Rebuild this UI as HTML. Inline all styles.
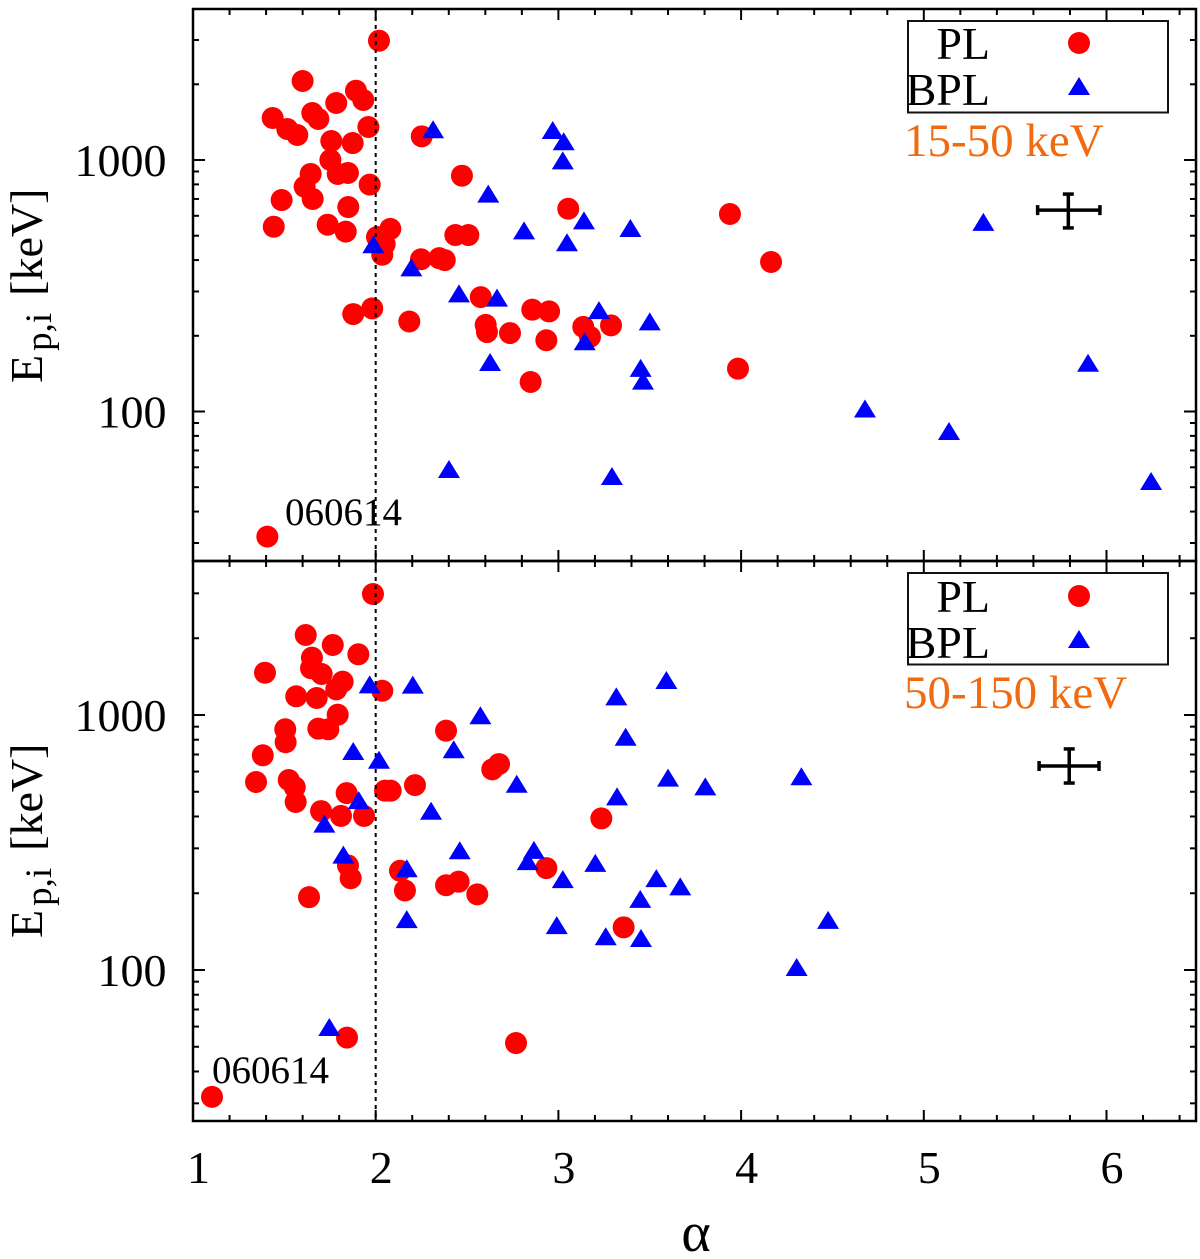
<!DOCTYPE html>
<html lang="en">
<head>
<meta charset="utf-8">
<title>Ep,i versus alpha</title>
<style>
html,body{margin:0;padding:0;background:#fff;}
svg{display:block;font-family:"Liberation Serif",serif;}
</style>
</head>
<body>
<svg id="chart" xmlns="http://www.w3.org/2000/svg" width="1200" height="1259" viewBox="0 0 1200 1259">
  <rect width="1200" height="1259" fill="#fff"/>
  <g id="gridless-axes"></g>
  <g id="marks"></g>

  <text transform="translate(42,383) rotate(-90)" font-size="46" fill="#000">E<tspan dx="4" dy="9" font-size="37">p,i</tspan><tspan dx="17" dy="-9">[keV]</tspan></text>
  <text transform="translate(42,938) rotate(-90)" font-size="46" fill="#000">E<tspan dx="4" dy="9" font-size="37">p,i</tspan><tspan dx="17" dy="-9">[keV]</tspan></text>
  <text x="696" y="1251" font-size="56" text-anchor="middle" fill="#000">α</text>

  <text x="285" y="525" font-size="39" fill="#000">060614</text>
  <text x="212" y="1083" font-size="39" fill="#000">060614</text>

  <g>
    <rect x="908" y="21" width="260" height="91.5" fill="#fff" stroke="#111" stroke-width="2"/>
    <text x="990" y="59" font-size="46" text-anchor="end" fill="#000">PL</text>
    <circle cx="1079" cy="43" r="11" fill="#ff0000"/>
    <text x="990" y="105" font-size="46" text-anchor="end" fill="#000">BPL</text>
    <polygon points="1079,77 1090,95 1068,95" fill="#0000ff"/>
    <text x="904" y="156" font-size="47" fill="#f26a10">15-50 keV</text>
  </g>
  <g>
    <rect x="908" y="573" width="260" height="91.5" fill="#fff" stroke="#111" stroke-width="2"/>
    <text x="990" y="612" font-size="46" text-anchor="end" fill="#000">PL</text>
    <circle cx="1079" cy="596" r="11" fill="#ff0000"/>
    <text x="990" y="658" font-size="46" text-anchor="end" fill="#000">BPL</text>
    <polygon points="1079,630 1090,648 1068,648" fill="#0000ff"/>
    <text x="904" y="708" font-size="47" fill="#f26a10">50-150 keV</text>
  </g>
</svg>
<script>
// Axis values
const xMajorTicks = [1, 2, 3, 4, 5, 6];
const xMinorTicks = [1.2,1.4,1.6,1.8,2.2,2.4,2.6,2.8,3.2,3.4,3.6,3.8,4.2,4.4,4.6,4.8,5.2,5.4,5.6,5.8,6.2,6.4];
const yMajorTicks = [100, 1000];
const yMinorTicks = [30,40,50,60,70,80,90,200,300,400,500,600,700,800,900,2000,3000,4000];

// Top panel (15-50 keV)
const topPLAlpha = [2.018,1.600,1.892,1.932,1.784,1.653,1.686,1.436,1.516,1.571,1.960,1.757,1.874,1.752,1.792,1.848,1.644,1.611,1.655,1.967,1.485,1.850,1.442,1.737,1.836,2.007,2.080,2.049,2.036,2.252,2.472,3.054,3.939,4.164,2.436,2.507,2.248,2.348,2.378,2.575,2.857,2.949,1.981,1.877,2.184,2.602,2.609,2.735,3.136,3.173,3.288,2.934,2.848,3.983,1.407];
const topPLEp = [2981,2061,1886,1732,1685,1538,1456,1469,1328,1257,1353,1190,1168,1000,880,888,880,783,700,798,693,650,543,553,519,494,532,463,420,1242,866,640,610,393,503,503,403,407,400,285,254,250,257,244,228,221,207,205,217,198,220,192,131,148,31.8];
const topBPLAlpha = [2.314,2.969,3.029,3.024,2.616,3.140,3.394,2.812,3.047,1.987,2.195,2.456,2.664,3.222,3.500,3.144,2.626,3.450,3.463,5.326,4.678,5.138,5.899,6.244,2.401,3.293];
const topBPLEp = [1289,1280,1155,970,715,560,522,511,458,450,364,287,276,246,222,185,153,145,129,552,100,81.4,152,51.5,57.5,53.9];
const topErrAlpha = [5.623, 5.791, 5.964];
const topErrEp = [537, 632, 732];

// Bottom panel (50-150 keV)
const botPLAlpha = [1.985,1.617,1.765,1.905,1.651,1.646,1.704,1.394,1.819,1.784,2.036,1.565,1.677,1.792,1.505,1.507,1.686,1.741,2.385,1.382,1.524,1.345,1.557,1.562,1.841,2.051,2.082,2.215,2.675,2.638,1.701,1.810,1.936,1.848,1.863,2.133,2.160,2.385,2.454,2.556,1.635,2.934,3.235,3.357,1.843,2.768,1.104];
const botPLEp = [2982,2059,1882,1730,1678,1525,1448,1465,1351,1261,1245,1184,1166,1003,879,782,884,879,868,695,556,546,521,456,494,505,505,531,642,612,420,402,402,257,229,245,205,215,222,198,193,251,393,147,54.3,51.7,31.8];
const botBPLAlpha = [1.967,2.203,2.573,1.877,2.427,2.018,2.772,1.907,2.303,1.719,2.460,2.866,2.832,1.823,2.170,3.024,2.170,2.991,3.202,3.536,3.667,3.448,3.259,3.452,3.321,3.591,3.317,3.368,3.600,3.804,4.330,4.476,4.304,1.746];
const botBPLEp = [1284,1280,971,703,714,650,523,451,410,365,287,288,260,276,244,221,154,146,256,223,207,185,132,130,467,1335,1152,800,553,511,560,153,100,58.2];
const botErrAlpha = [5.631, 5.796, 5.959];
const botErrEp = [541, 631, 736];

const guideAlpha = 2;

const NS = 'http://www.w3.org/2000/svg';
const axesLayer = document.getElementById('gridless-axes');
const marksLayer = document.getElementById('marks');

function xPx(a) { return 193 + (a - 1) * 182.7; }
function yTop(e) { return 160 + (3 - Math.log10(e)) * 251.5; }
function yBot(e) { return 715 + (3 - Math.log10(e)) * 255; }

function segment(parent, x1, y1, x2, y2, width, name) {
  const el = document.createElementNS(NS, 'line');
  el.setAttribute('x1', x1);
  el.setAttribute('y1', y1);
  el.setAttribute('x2', x2);
  el.setAttribute('y2', y2);
  el.setAttribute('stroke', '#000');
  el.setAttribute('stroke-width', width);
  
  
  parent.appendChild(el);
  return el;
}

function label(str, x, y, anchor, name) {
  const el = document.createElementNS(NS, 'text');
  el.setAttribute('x', x);
  el.setAttribute('y', y);
  el.setAttribute('font-size', '46');
  el.setAttribute('text-anchor', anchor);
  el.setAttribute('fill', '#000');
  
  
  el.textContent = str;
  axesLayer.appendChild(el);
}

function drawPanel(top, bottom, yScale, panel) {
  const left = 193, right = 1196;
  const frame = document.createElementNS(NS, 'rect');
  frame.setAttribute('x', left);
  frame.setAttribute('y', top);
  frame.setAttribute('width', right - left);
  frame.setAttribute('height', bottom - top);
  frame.setAttribute('fill', 'none');
  frame.setAttribute('stroke', '#000');
  frame.setAttribute('stroke-width', '2.5');
  
  
  axesLayer.appendChild(frame);

  xMajorTicks.forEach(function (t) {
    if (t === 1) return;
    segment(axesLayer, xPx(t), top, xPx(t), top + 11, 2, panel + '-x-major-tick');
    segment(axesLayer, xPx(t), bottom, xPx(t), bottom - 11, 2, panel + '-x-major-tick');
  });
  xMinorTicks.forEach(function (t) {
    segment(axesLayer, xPx(t), top, xPx(t), top + 6, 2, panel + '-x-minor-tick');
    segment(axesLayer, xPx(t), bottom, xPx(t), bottom - 6, 2, panel + '-x-minor-tick');
  });
  yMajorTicks.forEach(function (t) {
    const y = yScale(t);
    segment(axesLayer, left, y, left + 12, y, 2, panel + '-y-major-tick');
    segment(axesLayer, right, y, right - 12, y, 2, panel + '-y-major-tick');
    label(String(t), 166.5, y + 16, 'end', panel + '-y-tick-label');
  });
  yMinorTicks.forEach(function (t) {
    const y = yScale(t);
    if (y < top + 3 || y > bottom - 3) return;
    segment(axesLayer, left, y, left + 6, y, 2, panel + '-y-minor-tick');
    segment(axesLayer, right, y, right - 6, y, 2, panel + '-y-minor-tick');
  });
}

function drawCircles(alphas, eps, yScale, name) {
  alphas.forEach(function (a, i) {
    const el = document.createElementNS(NS, 'circle');
    el.setAttribute('cx', xPx(a));
    el.setAttribute('cy', yScale(eps[i]));
    el.setAttribute('r', '11');
    el.setAttribute('fill', '#ff0000');
    
    
    marksLayer.appendChild(el);
  });
}

function drawTriangles(alphas, eps, yScale, name) {
  alphas.forEach(function (a, i) {
    const x = xPx(a), y = yScale(eps[i]);
    const el = document.createElementNS(NS, 'polygon');
    el.setAttribute('points', x + ',' + (y - 12) + ' ' + (x + 11) + ',' + (y + 6) + ' ' + (x - 11) + ',' + (y + 6));
    el.setAttribute('fill', '#0000ff');
    
    
    marksLayer.appendChild(el);
  });
}

function drawErrorBar(alphas, eps, yScale, name) {
  const xl = xPx(alphas[0]), xc = xPx(alphas[1]), xh = xPx(alphas[2]);
  const yl = yScale(eps[0]), yc = yScale(eps[1]), yh = yScale(eps[2]);
  const g = document.createElementNS(NS, 'g');
  
  
  marksLayer.appendChild(g);
  segment(g, xl, yc, xh, yc, 3.5, name + '-horizontal');
  segment(g, xc, yl, xc, yh, 3.5, name + '-vertical');
  segment(g, xl, yc - 5, xl, yc + 5, 3.5, name + '-cap');
  segment(g, xh, yc - 5, xh, yc + 5, 3.5, name + '-cap');
  segment(g, xc - 5.5, yl, xc + 5.5, yl, 3.5, name + '-cap');
  segment(g, xc - 5.5, yh, xc + 5.5, yh, 3.5, name + '-cap');
}

drawPanel(9, 561, yTop, 'top');
drawPanel(561, 1121, yBot, 'bottom');

xMajorTicks.forEach(function (t) {
  label(String(t), xPx(t) + 5.5, 1183, 'middle', 'x-tick-label');
});

drawCircles(topPLAlpha, topPLEp, yTop, 'pl-point-top');
drawCircles(botPLAlpha, botPLEp, yBot, 'pl-point-bottom');

const guide = segment(marksLayer, xPx(guideAlpha), 9, xPx(guideAlpha), 1121, 2, 'alpha-2-guide-line');
guide.setAttribute('stroke-dasharray', '4 4');

drawTriangles(topBPLAlpha, topBPLEp, yTop, 'bpl-point-top');
drawTriangles(botBPLAlpha, botBPLEp, yBot, 'bpl-point-bottom');

drawErrorBar(topErrAlpha, topErrEp, yTop, 'typical-error-bar-top');
drawErrorBar(botErrAlpha, botErrEp, yBot, 'typical-error-bar-bottom');
</script>
</body>
</html>
